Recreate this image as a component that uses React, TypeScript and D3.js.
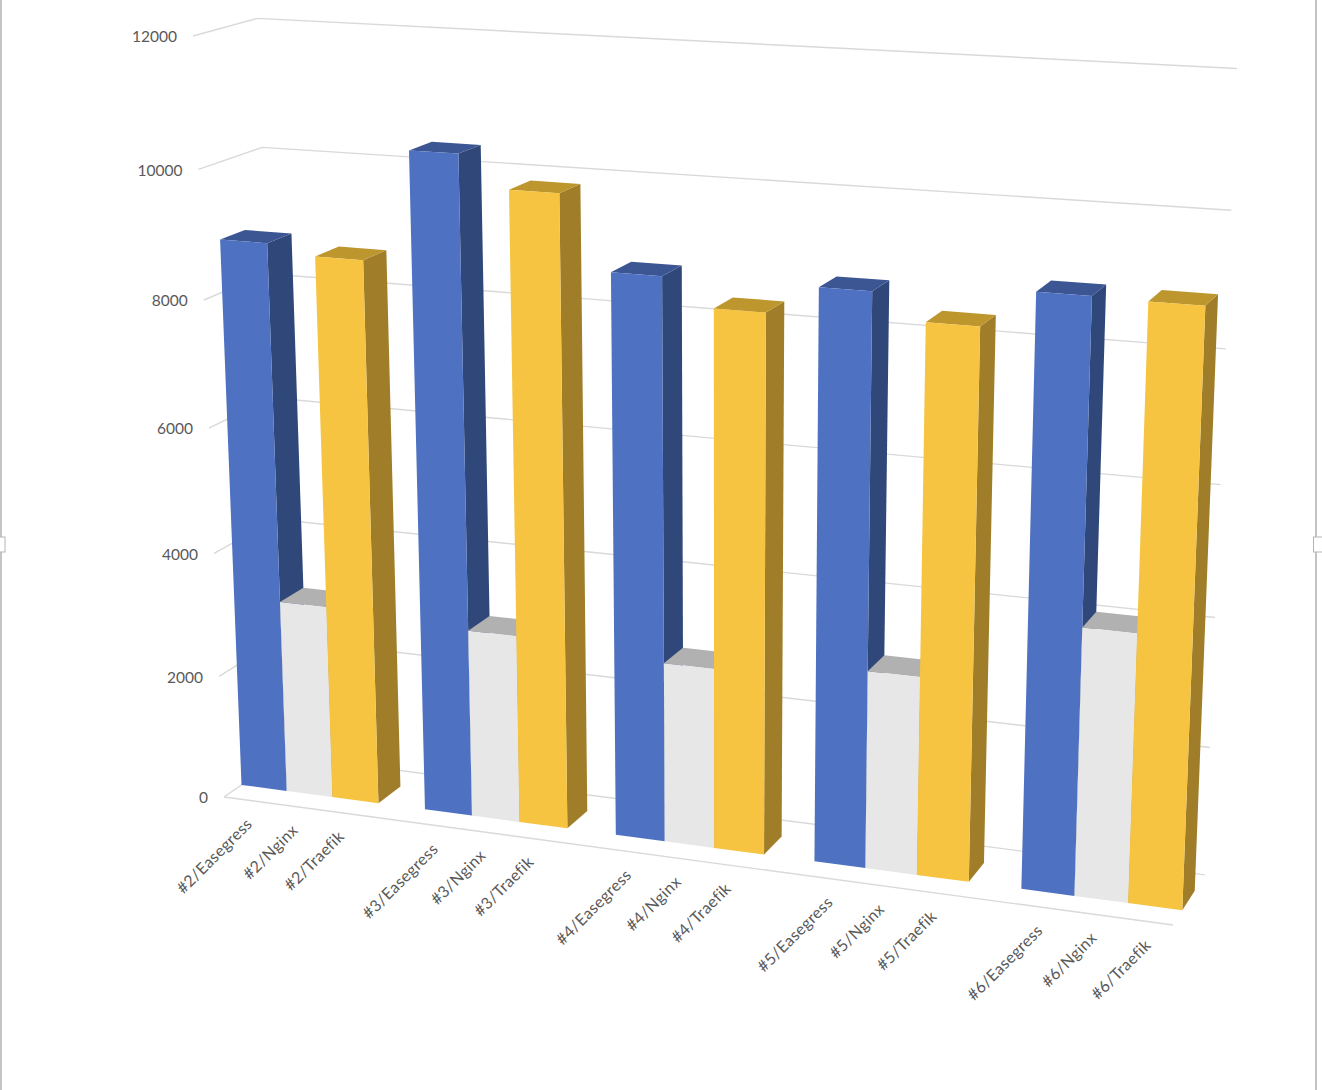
import React from 'react';
import * as d3 from 'd3';

const runs = ['#2', '#3', '#4', '#5', '#6'];
const proxies = ['Easegress', 'Nginx', 'Traefik'];
const easegress = [8820, 10380, 8770, 8780, 8950];
const nginx = [3130, 3010, 2850, 3090, 4110];
const traefik = [8670, 9890, 8350, 8390, 8930];
const yTicks = [0, 2000, 4000, 6000, 8000, 10000, 12000];

const seriesValues = [easegress, nginx, traefik];
// front, side, top faces of each series
const colors = [
  { front: '#4e71c2', side: '#2f4779', top: '#3c5694' },
  { front: '#e7e7e7', side: '#8f8f8f', top: '#b1b1b1' },
  { front: '#f6c441', side: '#a07d28', top: '#bd962e' },
];

const width = 1322;
const height = 1090;

// screen position of the box corners, used for the perspective
const O = [224, 797];
const X = [1173, 925];
const Y = [193, 36];
const Z = [284, 755.5];
const persp = { x: -0.0924, y: -0.0587, z: 0.0338 };

const project = (x: number, y: number, z: number): [number, number] => {
  const w = 1 + persp.x * x + persp.y * y + persp.z * z;
  const at = (i: number) =>
    (O[i] +
      x * (X[i] * (1 + persp.x) - O[i]) +
      y * (Y[i] * (1 + persp.y) - O[i]) +
      z * (Z[i] * (1 + persp.z) - O[i])) /
    w;
  return [at(0), at(1)];
};

const xGroup = d3.scaleBand<string>().domain(runs).range([0, 1]).paddingInner(0.25);
const xBar = d3.scaleBand<string>().domain(proxies).range([0, xGroup.bandwidth()]);
const yScale = d3.scaleLinear().domain([0, 12000]).range([0, 1]);
const zBar = d3.scaleBand<string>().domain(['bar']).range([0.285, 0.675]);

const line = d3.line();
const face = (pts: [number, number][]) => line(pts)! + 'Z';

const tickColor = '#d9d9d9';
const textColor = '#595959';
const fontFamily = 'Lato, sans-serif';

export default function App() {
  const z0 = zBar('bar')!;
  const z1 = z0 + zBar.bandwidth();

  return (
    <svg
      width={width}
      height={height}
      style={{ position: 'absolute', left: 0, top: 0, display: 'block', background: '#fff' }}
    >
      {/* window frame */}
      <line x1={1} x2={1} y1={0} y2={height} stroke="#c4c4c4" strokeWidth={2} />
      <line x1={1316} x2={1316} y1={0} y2={height} stroke="#c4c4c4" strokeWidth={2} />
      <rect x={-1} y={537} width={6} height={15} fill="#fff" stroke="#b5b5b5" />
      <rect x={1313.5} y={537} width={10} height={15} fill="#fff" stroke="#b5b5b5" />

      {/* walls */}
      {yTicks.map((t) => {
        const v = yScale(t);
        const a = project(0, v, 0);
        const b = project(0, v, 1);
        const c = project(1, v, 1);
        return (
          <g key={t}>
            <path d={line([a, b, c])!} fill="none" stroke={tickColor} strokeWidth={1.4} />
            <text
              x={a[0] - 16}
              y={a[1] + 2.5}
              textAnchor="end"
              dominantBaseline="middle"
              fontFamily={fontFamily}
              fontSize={15.5}
              fill={textColor}
            >
              {t}
            </text>
          </g>
        );
      })}
      <path
        d={line([project(0, 0, 0), project(1, 0, 0)])!}
        fill="none"
        stroke={tickColor}
        strokeWidth={1.4}
      />

      {/* bars, left to right so the nearer front hides the side before it */}
      {runs.map((run, i) =>
        proxies.map((proxy, s) => {
          const x0 = xGroup(run)! + xBar(proxy)!;
          const x1 = x0 + xBar.bandwidth();
          const v = yScale(seriesValues[s][i]);
          const c = colors[s];
          return (
            <g key={run + proxy}>
              <path
                d={face([project(x1, 0, z0), project(x1, 0, z1), project(x1, v, z1), project(x1, v, z0)])}
                fill={c.side}
              />
              <path
                d={face([project(x0, v, z0), project(x1, v, z0), project(x1, v, z1), project(x0, v, z1)])}
                fill={c.top}
              />
              <path
                d={face([project(x0, 0, z0), project(x1, 0, z0), project(x1, v, z0), project(x0, v, z0)])}
                fill={c.front}
              />
            </g>
          );
        }),
      )}

      {/* category labels */}
      {runs.map((run) =>
        proxies.map((proxy) => {
          const xc = xGroup(run)! + xBar(proxy)! + xBar.bandwidth() / 2;
          const [px, py] = project(xc, 0, 0);
          return (
            <text
              key={run + proxy}
              transform={`translate(${px + 6.5},${py + 25}) rotate(-45)`}
              textAnchor="end"
              fontFamily={fontFamily}
              fontSize={16}
              letterSpacing={0.35}
              fill={textColor}
            >
              {`${run}/${proxy}`}
            </text>
          );
        }),
      )}
    </svg>
  );
}
